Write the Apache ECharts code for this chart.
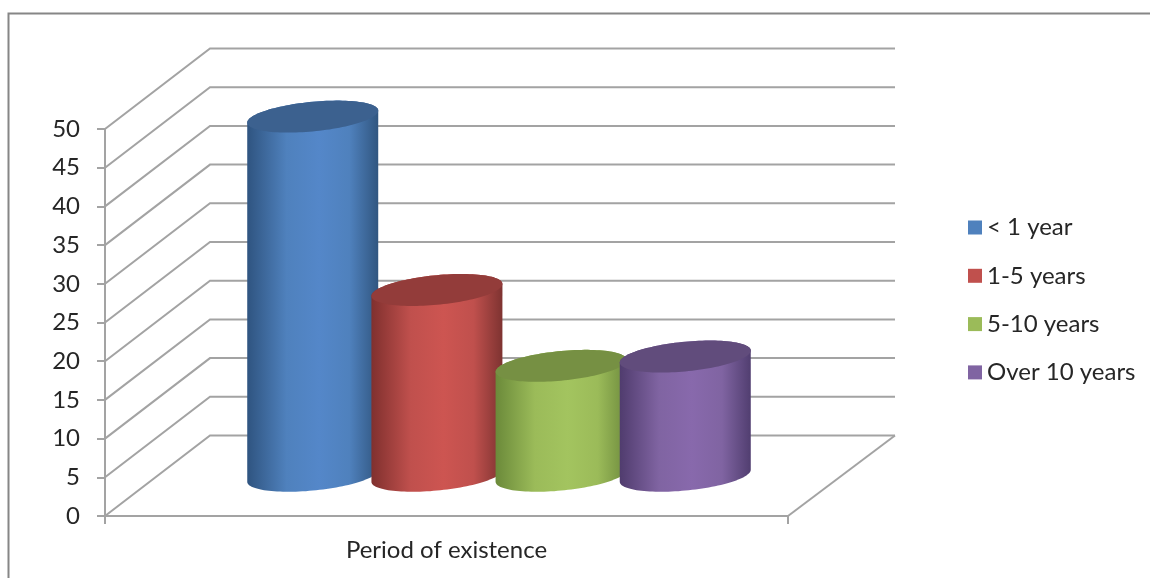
<!DOCTYPE html>
<html>
<head>
<meta charset="utf-8">
<style>html,body{margin:0;padding:0;background:#fff}#chart{width:1150px;height:578px}</style>
<script src="https://cdn.jsdelivr.net/npm/echarts@6/dist/echarts.min.js"></script>
</head>
<body>
<div id="chart"></div>
<script>
// Share of organisations by period of existence
const categories = ['Period of existence'];
const seriesNames = ['< 1 year', '1-5 years', '5-10 years', 'Over 10 years'];
const seriesValues = [46.4, 24, 14.2, 15.4];
const axisTicks = [0, 5, 10, 15, 20, 25, 30, 35, 40, 45, 50];

// Flat colour, cylinder top, shaded edge, right edge and highlight for each series
const baseColors = ['#4f81bd', '#c0504d', '#9bbb59', '#8064a2'];
const topColors = ['#3c618f', '#933c3a', '#769043', '#614c7c'];
const edgeColors = ['#2f5480', '#80302e', '#6b8a3a', '#503c6e'];
const farEdgeColors = ['#315680', '#7e3331', '#6f8c3e', '#513e70'];
const lightColors = ['#5487c9', '#cd5551', '#a3c45f', '#8869ac'];

// Projection of the chart's depth onto the page
const DEPTH_X = 105, DEPTH_Y = 80.5, BACK_RIGHT_X = 107;
const GRID_COLOR = '#a3a3a3';
const GAP_UNITS = 5.5, CYL_HALF = 65.5, ELL_HALF = 16, ELL_PHASE = -0.385;

function ellipsePoint(cx, cy, t) {
  return [cx + CYL_HALF * Math.cos(t), cy + ELL_HALF * Math.sin(t + ELL_PHASE)];
}

function renderWall(params, api) {
  const v = api.value(1);
  const p = api.coord([0, v]);
  const band = api.size([1, 0])[0];
  const left = p[0] - band / 2;
  const children = [{
    type: 'polyline',
    shape: { points: [[left, p[1]], [left + DEPTH_X, p[1] - DEPTH_Y], [left + band + BACK_RIGHT_X, p[1] - DEPTH_Y]] },
    style: { stroke: GRID_COLOR, lineWidth: 2, fill: null }
  }];
  if (v === 0) {
    children.push({
      type: 'line',
      shape: { x1: left + band, y1: p[1], x2: left + band + BACK_RIGHT_X, y2: p[1] - DEPTH_Y },
      style: { stroke: GRID_COLOR, lineWidth: 2 }
    });
  }
  return { type: 'group', children };
}

function cylinderRenderer(i) {
  return function (params, api) {
    const base = api.coord([0, 0]);
    const top = api.coord([0, api.value(1)]);
    const step = api.size([1, 0])[0] / GAP_UNITS;
    const cx = base[0] + DEPTH_X / 2 + (i - 1.5) * step;
    const by = base[1] - DEPTH_Y / 2;
    const ty = top[1] - DEPTH_Y / 2;
    const body = [], cap = [];
    for (let k = 0; k <= 60; k++) {
      const t = Math.PI - k / 60 * Math.PI;
      body.push(ellipsePoint(cx, by, t));
    }
    for (let k = 0; k <= 60; k++) {
      const t = -k / 60 * Math.PI;
      body.push(ellipsePoint(cx, ty, t));
    }
    for (let k = 0; k < 120; k++) {
      cap.push(ellipsePoint(cx, ty, k / 120 * Math.PI * 2));
    }
    return {
      type: 'group',
      children: [
        {
          type: 'polygon',
          shape: { points: body },
          style: {
            fill: new echarts.graphic.LinearGradient(0, 0, 1, 0, [
              { offset: 0, color: edgeColors[i] },
              { offset: 0.3, color: baseColors[i] },
              { offset: 0.55, color: lightColors[i] },
              { offset: 0.78, color: baseColors[i] },
              { offset: 1, color: farEdgeColors[i] }
            ])
          }
        },
        { type: 'polygon', shape: { points: cap }, style: { fill: topColors[i] } }
      ]
    };
  };
}

const chart = echarts.init(document.getElementById('chart'));
chart.setOption({
  animation: false,
  backgroundColor: '#ffffff',
  textStyle: { fontFamily: 'Lato, "Open Sans", sans-serif' },
  graphic: [{
    type: 'polyline',
    silent: true,
    shape: { points: [[8.5, 578], [8.5, 13.5], [1150, 13.5]] },
    style: { stroke: '#868686', lineWidth: 2, fill: null }
  }],
  legend: {
    orient: 'vertical',
    left: 963,
    top: 210.5,
    icon: 'rect',
    itemWidth: 14,
    itemHeight: 14,
    itemGap: 24.3,
    data: seriesNames,
    textStyle: { fontSize: 24, color: '#262626' }
  },
  grid: { left: 105, top: 129, width: 683, height: 387 },
  xAxis: {
    type: 'category',
    data: categories,
    axisLine: { lineStyle: { color: GRID_COLOR, width: 2 } },
    axisTick: { show: true, alignWithLabel: false, length: 8, lineStyle: { color: GRID_COLOR, width: 2 } },
    axisLabel: { fontSize: 24, color: '#262626', margin: 22 }
  },
  yAxis: {
    type: 'value',
    min: 0,
    max: 50,
    interval: 5,
    axisLine: { show: true, lineStyle: { color: GRID_COLOR, width: 2 } },
    axisTick: { show: true, length: 8, lineStyle: { color: GRID_COLOR, width: 2 } },
    axisLabel: { fontSize: 24, color: '#262626', margin: 25 },
    splitLine: { show: false }
  },
  series: [
    {
      name: 'wall',
      type: 'custom',
      renderItem: renderWall,
      data: axisTicks.map(v => [0, v]),
      silent: true
    }
  ].concat(seriesNames.map((name, i) => ({
    name,
    type: 'custom',
    renderItem: cylinderRenderer(i),
    itemStyle: { color: baseColors[i] },
    data: [[0, seriesValues[i]]]
  })))
});
</script>
</body>
</html>
